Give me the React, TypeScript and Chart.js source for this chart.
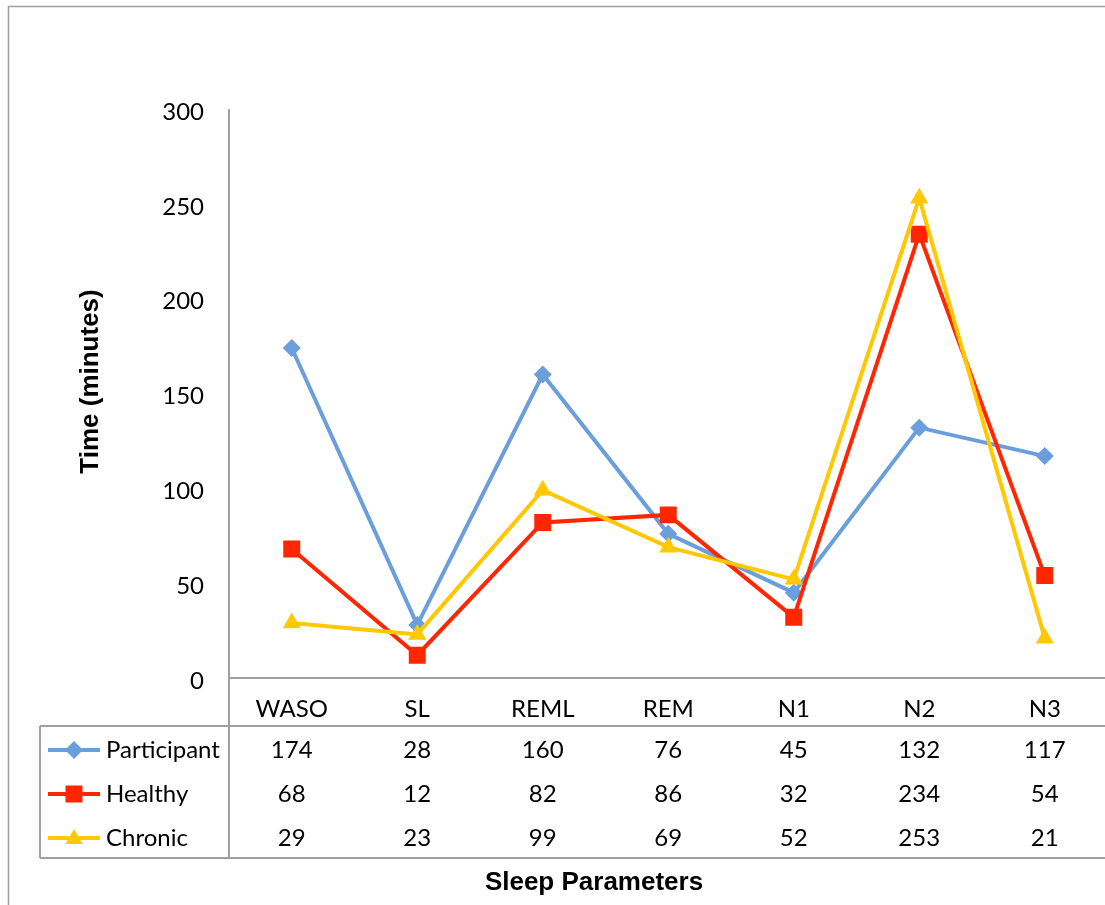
import { useEffect, useRef } from "react"
import { Chart, registerables, type ChartConfiguration, type Plugin } from "chart.js"

Chart.register(...registerables)

const categories = ["WASO", "SL", "REML", "REM", "N1", "N2", "N3"]
const seriesNames = ["Participant", "Healthy", "Chronic"]
const participant = [174, 28, 160, 76, 45, 132, 117]
const healthy = [68, 12, 82, 86, 32, 234, 54]
const chronic = [29, 23, 99, 69, 52, 253, 21]
const yTicks = [0, 50, 100, 150, 200, 250, 300]

const colors = ["#6A9FDB", "#FF2600", "#FFC800"]
const markers = ["diamond", "square", "triangle"]
const seriesValues = [participant, healthy, chronic]

const GRAY = "#A0A0A0"
const FONT = "Lato, 'Open Sans', sans-serif"
const TITLE_FONT = "bold 26px 'Liberation Sans', Arial, sans-serif"

function drawMarker(ctx: CanvasRenderingContext2D, kind: string, x: number, y: number, color: string) {
  ctx.fillStyle = color
  ctx.beginPath()
  if (kind === "diamond") {
    const r = 9
    ctx.moveTo(x - r, y)
    ctx.lineTo(x, y - r)
    ctx.lineTo(x + r, y)
    ctx.lineTo(x, y + r)
  } else if (kind === "square") {
    ctx.rect(x - 8.5, y - 8.5, 17, 17)
  } else {
    ctx.moveTo(x, y - 9)
    ctx.lineTo(x + 8.7, y + 6)
    ctx.lineTo(x - 8.7, y + 6)
  }
  ctx.closePath()
  ctx.fill()
}

// frame, axis lines and the data table under the plot
const tablePlugin: Plugin<"line"> = {
  id: "excelTable",
  beforeDraw(chart) {
    const { ctx, width, height } = chart
    ctx.save()
    ctx.fillStyle = "#fff"
    ctx.fillRect(0, 0, width, height)
    ctx.strokeStyle = GRAY
    ctx.lineWidth = 1.5
    ctx.strokeRect(8.5, 6.5, width + 50, height + 50)
    ctx.restore()
  },
  afterDraw(chart) {
    const { ctx, chartArea, width } = chart
    const xScale = chart.scales.x
    const tableTop = chartArea.bottom + 48
    const rowH = 44
    const tableBottom = tableTop + rowH * seriesNames.length
    const tableLeft = 40

    ctx.save()
    ctx.strokeStyle = GRAY
    ctx.lineWidth = 2
    ctx.beginPath()
    // y axis, running down through the table
    ctx.moveTo(chartArea.left, chartArea.top)
    ctx.lineTo(chartArea.left, tableBottom)
    // x axis
    ctx.moveTo(chartArea.left, chartArea.bottom)
    ctx.lineTo(width, chartArea.bottom)
    ctx.moveTo(tableLeft, tableTop)
    ctx.lineTo(width, tableTop)
    ctx.moveTo(tableLeft, tableBottom)
    ctx.lineTo(width, tableBottom)
    ctx.moveTo(tableLeft, tableTop)
    ctx.lineTo(tableLeft, tableBottom)
    ctx.stroke()

    ctx.font = `24px ${FONT}`
    ctx.textBaseline = "middle"
    seriesNames.forEach((name, r) => {
      const cy = tableTop + rowH * r + rowH / 2 + 2
      // legend key
      ctx.strokeStyle = colors[r]
      ctx.lineWidth = 4
      ctx.beginPath()
      ctx.moveTo(48, cy)
      ctx.lineTo(100, cy)
      ctx.stroke()
      drawMarker(ctx, markers[r], 74, cy, colors[r])
      ctx.fillStyle = "#000"
      ctx.textAlign = "left"
      ctx.fillText(name, 106, cy)
      ctx.textAlign = "center"
      seriesValues[r].forEach((v, i) => {
        ctx.fillText(String(v), xScale.getPixelForValue(i), cy)
      })
    })

    // axis titles
    ctx.fillStyle = "#000"
    ctx.font = TITLE_FONT
    ctx.textAlign = "center"
    ctx.textBaseline = "alphabetic"
    ctx.fillText("Sleep Parameters", 594, 890)
    ctx.translate(98, (chartArea.top + chartArea.bottom) / 2 - 12)
    ctx.rotate(-Math.PI / 2)
    ctx.fillText("Time (minutes)", 0, 0)
    ctx.restore()
  },
}

export default function App() {
  const canvasRef = useRef<HTMLCanvasElement>(null)

  useEffect(() => {
    if (!canvasRef.current) return
    const pointStyles = ["rectRot", "rect", "triangle"] as const
    const radii = [9, 12, 10.5]

    const config: ChartConfiguration<"line"> = {
      type: "line",
      data: {
        labels: categories,
        datasets: seriesNames.map((name, i) => ({
          label: name,
          data: seriesValues[i],
          borderColor: colors[i],
          backgroundColor: colors[i],
          borderWidth: 4,
          pointStyle: pointStyles[i],
          pointRadius: radii[i],
          pointBorderWidth: 0,
          tension: 0,
          order: seriesNames.length - i,
        })),
      },
      options: {
        responsive: false,
        animation: false,
        events: [],
        layout: { padding: { top: 109, left: 0, right: 12.5, bottom: 0 } },
        plugins: { legend: { display: false }, tooltip: { enabled: false } },
        scales: {
          x: {
            offset: true,
            grid: { display: false },
            border: { display: false },
            ticks: { color: "#000", font: { family: FONT, size: 24 }, padding: 9 },
            afterFit: (scale) => {
              scale.height = 242
            },
          },
          y: {
            min: 0,
            max: 300,
            afterBuildTicks: (scale) => {
              scale.ticks = yTicks.map((v) => ({ value: v }))
            },
            grid: { display: false, drawTicks: false },
            border: { display: false },
            ticks: { color: "#000", font: { family: FONT, size: 24 }, padding: 25, labelOffset: 3 },
            afterFit: (scale) => {
              scale.width = 229
            },
          },
        },
      },
      plugins: [tablePlugin],
    }

    const chart = new Chart(canvasRef.current, config)
    return () => chart.destroy()
  }, [])

  return (
    <div style={{ position: "fixed", left: 0, top: 0, width: 1105, height: 905, overflow: "hidden", background: "#fff" }}>
      <canvas ref={canvasRef} width={1120} height={920} style={{ display: "block", width: 1120, height: 920 }} />
    </div>
  )
}
